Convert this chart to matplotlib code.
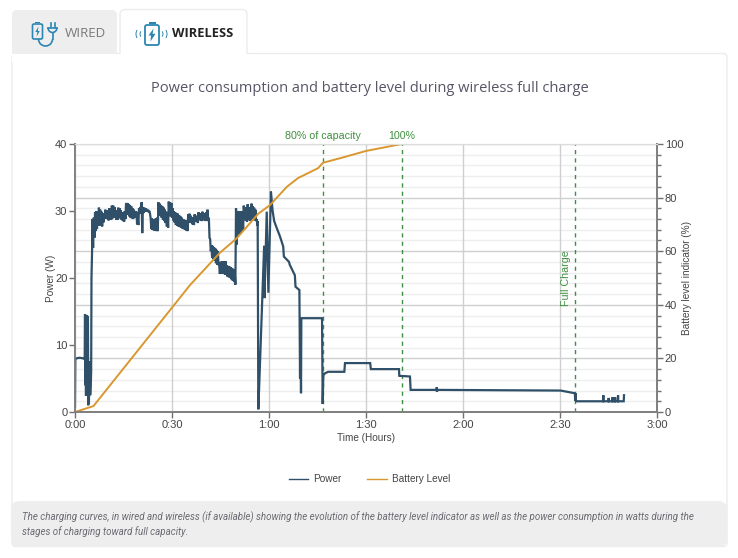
import matplotlib
matplotlib.use("Agg")
import matplotlib.pyplot as plt
from matplotlib.patches import FancyBboxPatch, Rectangle, Polygon, Arc
import numpy as np

# Minutes since start; power in watts, battery in percent.

start_time = [0.0, 0.1, 0.3, 1.5, 2.5, 3.0, 3.1, 3.15, 3.3, 3.4, 3.5, 4.0, 4.1, 4.2, 4.3, 4.5, 4.7, 4.9, 5.0, 5.1, 5.3]
start_power = [0.8, 7.8, 8.0, 8.1, 8.0, 7.9, 14.6, 4.0, 14.4, 2.4, 14.4, 14.2, 1.0, 7.6, 1.2, 7.5, 2.5, 4.5, 6.0, 20.0, 24.5]

band_time = [5.4, 5.8, 6.2, 6.6, 7.0, 7.4, 7.8, 8.2, 8.6, 9.0, 9.4, 9.8, 10.2, 10.6, 11.0, 11.4, 11.8, 12.2, 12.6, 13.0,
             13.4, 13.8, 14.2, 14.6, 15.0, 15.4, 15.8, 16.2, 16.6, 17.0, 17.4, 17.8, 18.2, 18.6, 19.0, 19.4, 19.8, 20.2, 20.6, 21.0,
             21.4, 21.8, 22.2, 22.6, 23.0, 23.4, 23.8, 24.2, 24.6, 25.0, 25.4, 25.8, 26.2, 26.6, 27.0, 27.4, 27.8, 28.2, 28.6, 29.0,
             29.4, 29.8, 30.2, 30.6, 31.0, 31.4, 31.8, 32.2, 32.6, 33.0, 33.4, 33.8, 34.2, 34.6, 35.0, 35.4, 35.8, 36.2, 36.6, 37.0,
             37.4, 37.8, 38.2, 38.6, 39.0, 39.4, 39.8, 40.2, 40.6, 41.0, 41.4, 41.8, 42.2, 42.6, 43.0, 43.4, 43.8, 44.2, 44.6, 45.0,
             45.4, 45.8, 46.2, 46.6, 47.0, 47.4, 47.8, 48.2, 48.6, 49.0, 49.4, 49.8, 50.2, 50.6, 51.0, 51.4, 51.8, 52.2, 52.6, 53.0,
             53.4, 53.8, 54.2, 54.6, 55.0, 55.4, 55.8, 56.2]
band_high = [28.8, 29.0, 29.8, 30.0, 29.6, 30.5, 30.2, 29.9, 29.7, 29.4, 30.2, 30.1, 29.9, 30.4, 30.3, 30.8, 30.8, 30.6, 30.1, 29.6,
             30.5, 30.4, 30.1, 29.8, 29.5, 30.0, 31.2, 31.2, 31.0, 30.9, 30.7, 30.4, 30.2, 30.0, 29.9, 29.0, 30.4, 30.6, 31.3, 30.6,
             30.5, 30.4, 30.3, 30.2, 30.0, 28.9, 28.9, 28.8, 28.8, 28.9, 29.0, 31.3, 31.1, 30.9, 30.7, 30.5, 30.2, 29.9, 29.5, 31.4,
             31.3, 31.2, 30.4, 30.0, 29.8, 29.7, 29.6, 29.4, 29.2, 29.0, 28.8, 28.7, 28.6, 28.5, 29.5, 29.6, 29.3, 29.1, 28.9, 29.5,
             29.3, 29.0, 29.8, 29.7, 29.4, 29.9, 29.7, 29.5, 29.8, 30.2, 29.0, 25.8, 24.9, 24.8, 24.6, 24.4, 24.2, 24.0, 22.0, 22.4,
             22.5, 22.5, 22.4, 22.5, 21.9, 21.8, 21.7, 21.6, 21.5, 21.3, 21.0, 30.4, 29.0, 30.0, 29.6, 30.0, 29.4, 30.8, 30.6, 30.3,
             31.0, 30.6, 30.3, 31.1, 30.7, 30.5, 30.2, 28.8]
band_low = [24.5, 26.0, 27.0, 27.3, 27.8, 28.4, 27.8, 27.7, 28.3, 28.8, 29.0, 28.8, 28.6, 28.9, 28.7, 28.9, 29.1, 29.0, 28.7, 28.7,
            29.1, 28.9, 28.7, 28.5, 28.4, 28.8, 29.6, 29.4, 29.2, 29.0, 28.9, 28.8, 29.0, 29.2, 28.0, 27.9, 29.8, 29.6, 26.7, 29.7,
            29.9, 29.9, 29.9, 29.8, 29.6, 27.3, 27.2, 27.1, 27.1, 27.0, 27.0, 29.5, 29.3, 29.0, 28.7, 28.5, 28.2, 27.7, 27.5, 29.4,
            29.2, 29.0, 28.6, 28.3, 27.9, 27.8, 27.7, 27.6, 27.5, 27.4, 27.3, 27.2, 27.1, 27.0, 28.2, 28.4, 28.2, 28.0, 27.9, 28.7,
            28.4, 28.2, 28.7, 28.6, 28.5, 28.8, 28.6, 28.5, 28.6, 28.5, 26.0, 24.0, 23.0, 22.8, 22.6, 22.2, 22.0, 21.9, 20.6, 20.8,
            20.6, 20.6, 20.5, 20.7, 20.2, 20.1, 20.0, 19.8, 19.6, 19.4, 19.0, 25.0, 26.8, 26.5, 26.8, 27.0, 27.2, 28.8, 28.6, 28.4,
            28.9, 28.6, 28.5, 29.0, 28.8, 28.6, 28.5, 27.8]

end_time = [56.5, 56.7, 56.9, 58.5, 58.6, 59.3, 59.8, 60.6, 61.1, 61.6, 62.2, 63.4, 64.4, 64.6, 66.2, 66.4, 68.0, 68.2, 69.4, 69.6, 69.7, 69.9, 70.0, 70.4,
            76.4, 76.6, 76.8, 77.4, 78.3, 83.3, 83.5, 91.3, 91.5, 100.2, 100.3, 103.6, 103.8, 111.8, 111.9, 111.95, 112.0, 150.2,
            154.6, 154.7, 154.8, 154.9, 155.0, 163.3, 163.4, 163.5, 165.0, 165.05, 165.1, 166.2, 166.25, 166.3, 167.0, 167.05, 167.1, 167.9, 167.95, 168.0, 169.7, 169.8]
end_power = [28.5, 0.4, 3.0, 24.8, 17.0, 29.9, 17.8, 32.9, 30.1, 28.5, 27.7, 26.2, 24.7, 23.2, 22.4, 22.0, 20.4, 18.7, 18.2, 5.0, 14.0, 2.8, 14.0, 14.0,
             14.0, 1.2, 5.5, 5.8, 6.0, 6.0, 7.3, 7.3, 6.4, 6.4, 5.4, 5.3, 3.3, 3.3, 3.7, 3.0, 3.3, 3.2,
             2.8, 1.7, 2.8, 1.7, 1.6, 1.6, 2.5, 1.6, 1.6, 2.1, 1.6, 1.6, 2.2, 1.6, 1.6, 2.2, 1.6, 1.6, 2.5, 1.6, 1.6, 2.5]

battery_time = [0.0, 5.7, 35.6, 44.8, 50.0, 56.7, 60.3, 65.5, 69.0, 75.2, 76.7, 82.0, 90.0, 101.0]
battery_level = [0.0, 2.2, 47.4, 59.4, 64.8, 74.0, 77.2, 84.0, 87.3, 91.0, 93.0, 94.7, 97.4, 100.0]

marker_times = [76.7, 101.0, 154.7]
marker_labels = ["80% of capacity", "100%", "Full Charge"]

x_ticks = [0, 30, 60, 90, 120, 150, 180]
x_labels = ["0:00", "0:30", "1:00", "1:30", "2:00", "2:30", "3:00"]

caption_lines = ["The charging curves, in wired and wireless (if available) showing the evolution of the battery level indicator as well as the power consumption in watts during the",
                 "stages of charging toward full capacity."]

DARK = "#2f5068"
ORANGE = "#d9982f"
GREEN = "#3f8f3f"
ICON = "#2b86b3"
CHART_FONT = ["Liberation Sans", "DejaVu Sans"]

###

def draw_icons(bg):

  # Wired tab: battery with a cable and a plug. The y axis here runs downward.

    bg.add_patch(FancyBboxPatch((32.5, 24), 10, 15, boxstyle="round,pad=0,rounding_size=1.5", fc="none", ec=ICON, lw=1.2))
    bg.add_patch(Rectangle((35, 21.8), 5, 1.5, fc=ICON, ec="none"))
    bg.add_patch(Polygon([[38.5, 26.5], [35.3, 32], [37.3, 32], [36.6, 36.5], [39.8, 31], [37.8, 31]], fc=ICON, ec="none"))
    bg.add_patch(Arc((45.5, 39), 14, 14, theta1=0, theta2=180, ec=ICON, lw=1.2))
    bg.add_patch(Arc((52.5, 27.5), 9, 10, theta1=0, theta2=180, ec=ICON, lw=1.2))
    bg.plot([48, 57], [27.5, 27.5], color=ICON, lw=1.2)
    bg.plot([50.5, 50.5], [23, 27], color=ICON, lw=1.2)
    bg.plot([54.5, 54.5], [23, 27], color=ICON, lw=1.2)
    bg.plot([52.5, 52.5], [32.5, 39], color=ICON, lw=1.2)

  # Wireless tab: battery with waves on both sides.

    bg.add_patch(FancyBboxPatch((145, 25), 14, 20, boxstyle="round,pad=0,rounding_size=2", fc="none", ec=ICON, lw=1.3))
    bg.add_patch(Rectangle((148.5, 21.8), 7, 1.8, fc=ICON, ec="none"))
    bg.add_patch(Polygon([[153.5, 28.5], [148.5, 35.5], [151, 35.5], [150.5, 41.5], [155.5, 33.8], [152.6, 33.8]], fc=ICON, ec="none"))
    for x, size, start, stop in [(144, 8, 140, 220), (144, 16, 150, 210), (159, 8, -40, 40), (159, 16, -30, 30)]:
        bg.add_patch(Arc((x, 34), size, size, theta1=start, theta2=stop, ec=ICON, lw=0.7))

###

def draw_page(fig):

    bg = fig.add_axes([0, 0, 1, 1], zorder=-5)
    bg.set_xlim(0, 738)
    bg.set_ylim(558, 0)
    bg.axis("off")

  # Card, tabs and caption box.

    bg.add_patch(FancyBboxPatch((12, 53.5), 715, 493, boxstyle="round,pad=0,rounding_size=4", fc="white", ec="#ececec", lw=1))
    bg.add_patch(FancyBboxPatch((12, 10), 105, 50, boxstyle="round,pad=0,rounding_size=5", fc="#eeeeee", ec="none"))
    bg.add_patch(Rectangle((12, 54), 106, 8, fc="white", ec="none"))
    bg.add_patch(FancyBboxPatch((120, 9.5), 127, 50, boxstyle="round,pad=0,rounding_size=5", fc="white", ec="#ececec", lw=1))
    bg.add_patch(Rectangle((119, 54), 129.5, 8, fc="white", ec="none"))
    bg.add_patch(FancyBboxPatch((11, 501), 716, 46, boxstyle="round,pad=0,rounding_size=9", fc="#eeeeee", ec="none"))

    draw_icons(bg)

    bg.text(65, 33.5, "WIRED", fontsize=9.6, color="#7a7a7a", family="Open Sans", va="center")
    bg.text(172, 33.5, "WIRELESS", fontsize=9.3, color="#222222", family="Open Sans", weight="bold", va="center")
    bg.text(369.5, 88, "Power consumption and battery level during wireless full charge",
        fontsize=10.5, color="#565666", family="Open Sans", ha="center", va="center")

    for y, line in zip([517, 532], caption_lines):
        bg.text(22, y, line, fontsize=7.05, color="#6a6a72", family="Roboto", style="italic", va="center")

###

def main():

    fig = plt.figure(figsize=(7.38, 5.58), dpi=100)
    fig.patch.set_facecolor("white")

    draw_page(fig)

    ax = fig.add_axes([75 / 738, 1 - 412 / 558, 582 / 738, 268 / 558])
    ax2 = ax.twinx()
    ax.set_zorder(ax2.get_zorder() + 1)
    ax.patch.set_visible(False)
    ax2.patch.set_facecolor("white")

  # Join the pieces of the power trace, the noisy band going high-low-high.

    band_t = []
    band_p = []
    for t, high, low in zip(band_time, band_high, band_low):
        band_t += [t, t + 0.2]
        band_p += [high, low]

    times = start_time + band_t + end_time
    power = start_power + band_p + end_power

    ax.plot(times, power, color=DARK, lw=1.6, solid_joinstyle="miter", label="Power")
    ax.plot(battery_time, np.array(battery_level) * 0.4, color=ORANGE, lw=1.4, label="Battery Level")

    for t in marker_times:
        ax.axvline(t, color=GREEN, lw=1, dashes=(3, 3), zorder=1.5)

    ax.set_xlim(0, 180)
    ax.set_ylim(0, 40)
    ax2.set_ylim(0, 100)

    ax.set_xticks(x_ticks)
    ax.set_xticklabels(x_labels)
    ax.set_yticks([0, 10, 20, 30, 40])
    ax2.set_yticks([0, 20, 40, 60, 80, 100])
    ax2.set_yticks(np.arange(0, 101, 4), minor=True)

    ax.grid(axis="x", color="#cfcfcf", lw=1)
    ax.set_axisbelow(True)
    ax2.grid(axis="y", which="major", color="#cfcfcf", lw=1)
    ax2.grid(axis="y", which="minor", color="#eeeeee", lw=1)

    for a in [ax, ax2]:
        for name in ["left", "right", "bottom"]:
            a.spines[name].set_color("#808080")
            a.spines[name].set_linewidth(1.3)
        a.spines["top"].set_color("#dddddd")
        a.tick_params(which="major", length=4.5, width=1, color="#707070", labelsize=8.0, labelcolor="#444444", pad=1)
        a.tick_params(which="minor", length=3, width=1, color="#707070")
        for label in a.get_xticklabels() + a.get_yticklabels():
            label.set_family(CHART_FONT)

    ax.set_xlabel("Time (Hours)", fontsize=7.2, color="#444444", family=CHART_FONT, labelpad=2.5)
    ax.set_ylabel("Power (W)", fontsize=7.2, color="#444444", family=CHART_FONT, labelpad=-0.5)
    ax2.set_ylabel("Battery level indicator (%)", fontsize=7.2, color="#444444", family=CHART_FONT, labelpad=-1)

    trans = ax.get_xaxis_transform()
    ax.text(marker_times[0], 1.013, marker_labels[0], transform=trans, ha="center", va="bottom",
        fontsize=7.7, color=GREEN, family=CHART_FONT)
    ax.text(marker_times[1], 1.013, marker_labels[1], transform=trans, ha="center", va="bottom",
        fontsize=7.7, color=GREEN, family=CHART_FONT)
    ax.text(marker_times[2] - 2.8, 0.50, marker_labels[2], transform=trans, ha="center", va="center",
        rotation=90, fontsize=7.7, color=GREEN, family=CHART_FONT)

    legend = ax.legend(loc="center", bbox_to_anchor=(369.5 / 738, 1 - 479 / 558), bbox_transform=fig.transFigure,
        ncol=2, frameon=False, handlelength=1.95, columnspacing=2.6, handletextpad=0.5,
        prop={"family": CHART_FONT, "size": 7.2}, labelcolor="#444444")
    for line in legend.get_lines():
        line.set_linewidth(1)

    fig.savefig("out.png", dpi=100)

###

if __name__ == "__main__":
    main()
